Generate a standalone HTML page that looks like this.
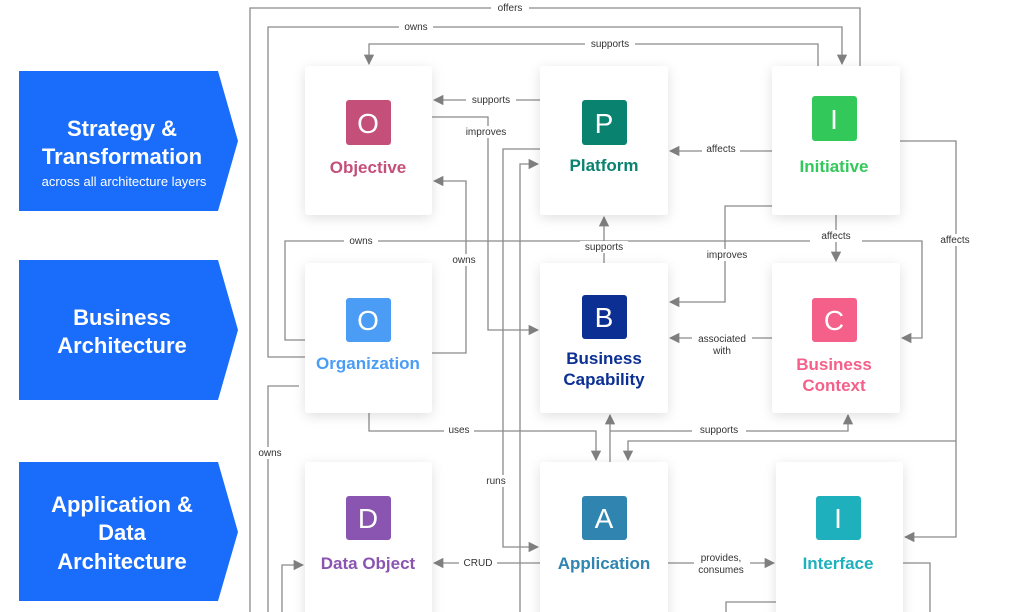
<!DOCTYPE html>
<html><head><meta charset="utf-8"><style>
html,body{margin:0;padding:0;background:#fff;}
svg{display:block;font-family:"Liberation Sans",Arial,sans-serif;}
.l{stroke:#8a8a8a;stroke-width:1.3;fill:none}
.t{font-size:10px;fill:#333;text-anchor:middle}
.bg{fill:#fff}
.card{fill:#fff;filter:url(#sh)}
.ic{font-size:28px;fill:#fff;text-anchor:middle}
.nm{font-size:17px;font-weight:bold;text-anchor:middle}
.bn{font-size:22px;font-weight:bold;fill:#fff;text-anchor:middle}
</style></head><body>
<svg width="1033" height="612" viewBox="0 0 1033 612">
<defs>
<filter id="sh" x="-20%" y="-20%" width="140%" height="140%"><feDropShadow dx="0" dy="3" stdDeviation="6" flood-color="#000" flood-opacity="0.12"/></filter>
<marker id="a" viewBox="0 0 10 10" refX="9" refY="5" markerWidth="8" markerHeight="8" orient="auto-start-reverse"><path d="M0,0 L10,5 L0,10 z" fill="#808080"/></marker>
</defs>
<!-- banners -->
<path d="M19,71 H218 L238,141 L218,211 H19 Z" fill="#1a6dfa"/>
<path d="M19,260 H218 L238,330 L218,400 H19 Z" fill="#1a6dfa"/>
<path d="M19,462 H218 L238,532 L218,601 H19 Z" fill="#1a6dfa"/>
<text class="bn" x="122" y="136">Strategy &amp;</text>
<text class="bn" x="122" y="164">Transformation</text>
<text x="124" y="186" font-size="13" fill="#fff" text-anchor="middle">across all architecture layers</text>
<text class="bn" x="122" y="325">Business</text>
<text class="bn" x="122" y="353">Architecture</text>
<text class="bn" x="122" y="512">Application &amp;</text>
<text class="bn" x="122" y="540">Data</text>
<text class="bn" x="122" y="569">Architecture</text>

<!-- connectors -->
<path class="l" d="M250,612 V8 H860 V66"/>
<path class="l" d="M305,357 H268 V27 H842 V64" marker-end="url(#a)"/>
<path class="l" d="M818,66 V44 H369 V64" marker-end="url(#a)"/>
<path class="l" d="M540,100 H434" marker-end="url(#a)"/>
<path class="l" d="M432,117 H488 V330 H538" marker-end="url(#a)"/>
<path class="l" d="M772,151 H670" marker-end="url(#a)"/>
<path class="l" d="M540,149 H503 V547 H538" marker-end="url(#a)"/>
<path class="l" d="M520,612 V164 H538" marker-end="url(#a)"/>
<path class="l" d="M432,353 H466 V181 H434" marker-end="url(#a)"/>
<path class="l" d="M305,340 H285 V241 H922 V338 H902" marker-end="url(#a)"/>
<path class="l" d="M836,215 V261" marker-end="url(#a)"/>
<path class="l" d="M604,263 V217" marker-end="url(#a)"/>
<path class="l" d="M772,206 H725 V302 H670" marker-end="url(#a)"/>
<path class="l" d="M900,141 H956 V537 H905" marker-end="url(#a)"/>
<path class="l" d="M956,441 H628 V460" marker-end="url(#a)"/>
<path class="l" d="M772,338 H670" marker-end="url(#a)"/>
<path class="l" d="M369,413 V431 H596 V460" marker-end="url(#a)"/>
<path class="l" d="M610,462 V415" marker-end="url(#a)"/>
<path class="l" d="M610,431 H848 V415" marker-end="url(#a)"/>
<path class="l" d="M299,386 H268 V612"/>
<path class="l" d="M540,563 H434" marker-end="url(#a)"/>
<path class="l" d="M668,563 H774" marker-end="url(#a)"/>
<path class="l" d="M282,612 V565 H303" marker-end="url(#a)"/>
<path class="l" d="M903,563 H930 V612"/>
<path class="l" d="M776,602 H726 V612"/>

<!-- cards -->
<rect class="card" x="305" y="66" width="127" height="149" rx="3"/>
<rect class="card" x="540" y="66" width="128" height="149" rx="3"/>
<rect class="card" x="772" y="66" width="128" height="149" rx="3"/>
<rect class="card" x="305" y="263" width="127" height="150" rx="3"/>
<rect class="card" x="540" y="263" width="128" height="150" rx="3"/>
<rect class="card" x="772" y="263" width="128" height="150" rx="3"/>
<rect class="card" x="305" y="462" width="127" height="160" rx="3"/>
<rect class="card" x="540" y="462" width="128" height="160" rx="3"/>
<rect class="card" x="776" y="462" width="127" height="160" rx="3"/>

<!-- icons -->
<rect x="346" y="100" width="45" height="45" rx="3" fill="#c4507a"/><text class="ic" x="368" y="133">O</text>
<text class="nm" x="368" y="173" fill="#c4507a">Objective</text>
<rect x="582" y="100" width="45" height="45" rx="3" fill="#0a8270"/><text class="ic" x="604" y="133">P</text>
<text class="nm" x="604" y="171" fill="#0a8270">Platform</text>
<rect x="812" y="96" width="45" height="45" rx="3" fill="#33c95a"/><text class="ic" x="834" y="129">I</text>
<text class="nm" x="834" y="172" fill="#33c95a">Initiative</text>
<rect x="346" y="298" width="45" height="44" rx="3" fill="#4a9cf5"/><text class="ic" x="368" y="330">O</text>
<text class="nm" x="368" y="369" fill="#4a9cf5">Organization</text>
<rect x="582" y="295" width="45" height="44" rx="3" fill="#0b2f93"/><text class="ic" x="604" y="327">B</text>
<text class="nm" x="604" y="364" fill="#0b2f93">Business</text>
<text class="nm" x="604" y="385" fill="#0b2f93">Capability</text>
<rect x="812" y="298" width="45" height="44" rx="3" fill="#f5608a"/><text class="ic" x="834" y="330">C</text>
<text class="nm" x="834" y="370" fill="#f5608a">Business</text>
<text class="nm" x="834" y="391" fill="#f5608a">Context</text>
<rect x="346" y="496" width="45" height="44" rx="3" fill="#8a55b0"/><text class="ic" x="368" y="528">D</text>
<text class="nm" x="368" y="569" fill="#8a55b0">Data Object</text>
<rect x="582" y="496" width="45" height="44" rx="3" fill="#2f84b0"/><text class="ic" x="604" y="528">A</text>
<text class="nm" x="604" y="569" fill="#2f84b0">Application</text>
<rect x="816" y="496" width="45" height="44" rx="3" fill="#1fb0bd"/><text class="ic" x="838" y="528">I</text>
<text class="nm" x="838" y="569" fill="#1fb0bd">Interface</text>

<!-- labels -->
<g>
<rect class="bg" x="491" y="2" width="38" height="12"/><text class="t" x="510" y="11">offers</text>
<rect class="bg" x="399" y="21" width="34" height="12"/><text class="t" x="416" y="30">owns</text>
<rect class="bg" x="585" y="38" width="50" height="12"/><text class="t" x="610" y="47">supports</text>
<rect class="bg" x="466" y="94" width="50" height="12"/><text class="t" x="491" y="103">supports</text>
<rect class="bg" x="462" y="126" width="48" height="12"/><text class="t" x="486" y="135">improves</text>
<rect class="bg" x="702" y="143" width="38" height="12"/><text class="t" x="721" y="152">affects</text>
<rect class="bg" x="344" y="235" width="34" height="12"/><text class="t" x="361" y="244">owns</text>
<rect class="bg" x="448" y="254" width="32" height="12"/><text class="t" x="464" y="263">owns</text>
<rect class="bg" x="580" y="241" width="48" height="12"/><text class="t" x="604" y="250">supports</text>
<rect class="bg" x="810" y="230" width="52" height="12"/><text class="t" x="836" y="239">affects</text>
<rect class="bg" x="703" y="249" width="48" height="12"/><text class="t" x="727" y="258">improves</text>
<rect class="bg" x="936" y="234" width="38" height="12"/><text class="t" x="955" y="243">affects</text>
<rect class="bg" x="692" y="332" width="60" height="24"/><text class="t" x="722" y="342">associated</text><text class="t" x="722" y="354">with</text>
<rect class="bg" x="444" y="424" width="30" height="12"/><text class="t" x="459" y="433">uses</text>
<rect class="bg" x="692" y="424" width="54" height="12"/><text class="t" x="719" y="433">supports</text>
<rect class="bg" x="255" y="447" width="30" height="12"/><text class="t" x="270" y="456">owns</text>
<rect class="bg" x="482" y="475" width="28" height="12"/><text class="t" x="496" y="484">runs</text>
<rect class="bg" x="459" y="557" width="38" height="12"/><text class="t" x="478" y="566">CRUD</text>
<rect class="bg" x="694" y="551" width="56" height="25"/><text class="t" x="721" y="561">provides,</text><text class="t" x="721" y="573">consumes</text>
</g>
</svg>
</body></html>
